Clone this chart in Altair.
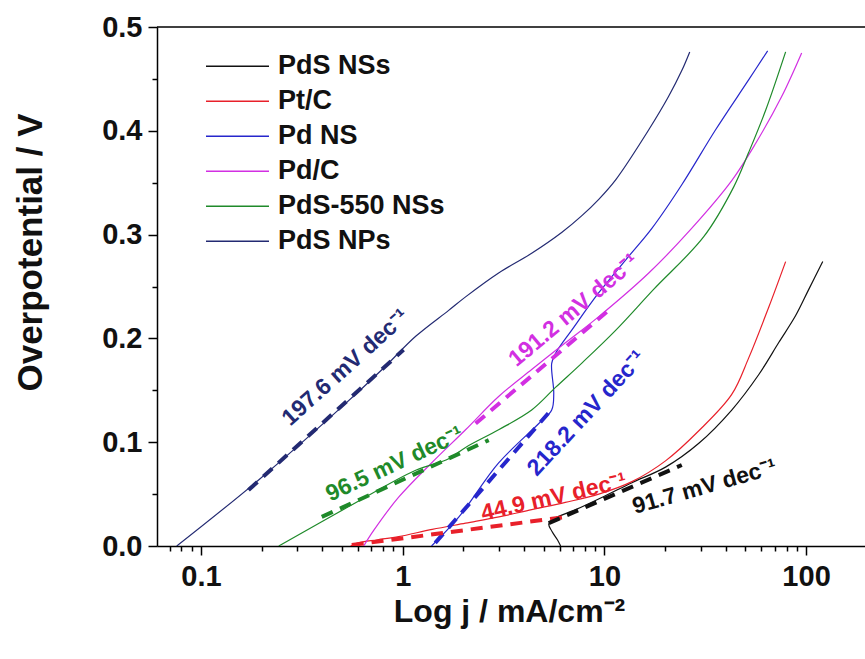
import altair as alt
import pandas as pd

# ---------------- data ----------------
series_names = ["PdS NSs", "Pt/C", "Pd NS", "Pd/C", "PdS-550 NSs", "PdS NPs"]
series_colors = ["#111111", "#e8202a", "#2626cc", "#d22fe2", "#1f8a2a", "#232a72"]

# current density (mA/cm2) and overpotential (V) per curve
pds_nss_j = [6.07, 5.85, 5.5, 5.3, 5.6, 7.2, 10.0, 13.7, 20.1, 29.4, 42.8, 58.2, 73.2, 88.8, 103, 121]
pds_nss_eta = [0.000, 0.006, 0.014, 0.021, 0.026, 0.035, 0.048, 0.061, 0.076, 0.099, 0.131, 0.165, 0.196, 0.222, 0.247, 0.274]

ptc_j = [0.552, 0.60, 0.75, 0.955, 1.4, 2.05, 3.0, 4.36, 6.4, 9.38, 13.7, 20.1, 29.4, 42.8, 51.9, 65.3, 79.2]
ptc_eta = [0.000, 0.003, 0.006, 0.009, 0.016, 0.022, 0.028, 0.035, 0.042, 0.050, 0.062, 0.082, 0.111, 0.146, 0.181, 0.230, 0.274]

pdns_j = [1.39, 1.90, 2.99, 4.73, 5.48, 5.61, 5.48, 5.74, 6.89, 9.38, 12.8, 17.2, 24.2, 35.6, 51.9, 64.5]
pdns_eta = [0.000, 0.028, 0.080, 0.118, 0.131, 0.147, 0.176, 0.186, 0.208, 0.244, 0.276, 0.306, 0.348, 0.401, 0.449, 0.477]

pdc_j = [0.641, 0.718, 0.955, 1.39, 2.05, 2.99, 4.36, 6.43, 9.38, 16.6, 26.8, 42.8, 56.3, 75.7, 95.1]
pdc_eta = [0.000, 0.015, 0.047, 0.080, 0.112, 0.144, 0.170, 0.196, 0.221, 0.263, 0.305, 0.352, 0.388, 0.433, 0.475]

pds550_j = [0.243, 0.540, 1.16, 1.69, 2.05, 2.99, 4.36, 5.74, 7.71, 11.4, 17.5, 31.1, 43.8, 51.9, 63.1, 79.2]
pds550_eta = [0.000, 0.038, 0.073, 0.084, 0.095, 0.112, 0.131, 0.153, 0.176, 0.208, 0.247, 0.298, 0.346, 0.379, 0.420, 0.476]

pdsnp_j = [0.0758, 0.193, 0.499, 0.80, 1.16, 1.69, 2.05, 2.99, 4.36, 6.14, 7.71, 9.38, 11.4, 16.6, 20.8, 24.2, 26.5]
pdsnp_eta = [0.000, 0.0636, 0.134, 0.171, 0.202, 0.227, 0.240, 0.263, 0.282, 0.302, 0.318, 0.334, 0.353, 0.401, 0.433, 0.458, 0.476]

# Tafel fit segments (start/end)
fit_series = ["PdS NPs", "PdS-550 NSs", "Pd/C", "Pd NS", "Pt/C", "PdS NSs"]
fit_j_start = [0.172, 0.397, 2.30, 1.45, 0.559, 5.30]
fit_j_end = [1.01, 2.67, 10.5, 5.5, 6.43, 24.2]
fit_eta_start = [0.054, 0.028, 0.118, 0.003, 0.001, 0.022]
fit_eta_end = [0.189, 0.102, 0.227, 0.132, 0.028, 0.078]

# Tafel slope labels
ann_series = ["PdS NPs", "PdS-550 NSs", "Pd/C", "Pd NS", "Pt/C", "PdS NSs"]
ann_text = ["197.6 mV dec⁻¹", "96.5 mV dec⁻¹", "191.2 mV dec⁻¹", "218.2 mV dec⁻¹", "44.9 mV dec⁻¹", "91.7 mV dec⁻¹"]
ann_j = [0.521, 0.913, 7.05, 8.17, 5.61, 31.4]
ann_eta = [0.172, 0.079, 0.227, 0.128, 0.047, 0.057]
ann_angle = [318, 335, 320, 313, 347, 344]

# ---------------- tables ----------------
curve_arrays = {
    "PdS NSs": (pds_nss_j, pds_nss_eta),
    "Pt/C": (ptc_j, ptc_eta),
    "Pd NS": (pdns_j, pdns_eta),
    "Pd/C": (pdc_j, pdc_eta),
    "PdS-550 NSs": (pds550_j, pds550_eta),
    "PdS NPs": (pdsnp_j, pdsnp_eta),
}
rows = []
for name, (js, etas) in curve_arrays.items():
    for i, (j, e) in enumerate(zip(js, etas)):
        rows.append({"series": name, "j": j, "eta": e, "idx": i})
curves = pd.DataFrame(rows)

fit_rows = []
for s, j1, j2, e1, e2 in zip(fit_series, fit_j_start, fit_j_end, fit_eta_start, fit_eta_end):
    fit_rows.append({"series": s, "j": j1, "eta": e1, "idx": 0})
    fit_rows.append({"series": s, "j": j2, "eta": e2, "idx": 1})
fits = pd.DataFrame(fit_rows)

# tick values
x_ticks = [0.07, 0.08, 0.09] + [round(k * 10 ** e, 3) for e in (-1, 0, 1) for k in range(1, 10)] + [100]
y_ticks = [round(i * 0.05, 2) for i in range(11)]

W, H = 708, 519
x_scale = alt.Scale(type="log", domain=[0.0605, 196], nice=False)
y_scale = alt.Scale(domain=[0, 0.5], nice=False, zero=False)
color_scale = alt.Scale(domain=series_names, range=series_colors)

x_major_test = "abs(log(datum.value)/LN10 - round(log(datum.value)/LN10)) < 0.01"
y_major_test = "abs(datum.value*10 - round(datum.value*10)) < 0.01"

x_axis = alt.Axis(
    values=x_ticks,
    labelExpr=f"{x_major_test} ? format(datum.value, '~g') : ''",
    tickSize={"condition": {"test": x_major_test, "value": 9}, "value": 5},
    labelOverlap=False,
    labelFlush=False,
    labelPadding=7,
    title="Log j / mA/cm⁻²",
    titleFontSize=32,
    titleX=W / 2 - 2,
    titleY=75,
    titleBaseline="alphabetic",
    titleAlign="center",
)
y_axis = alt.Axis(
    values=y_ticks,
    labelExpr=f"{y_major_test} ? format(datum.value, '.1f') : ''",
    tickSize={"condition": {"test": y_major_test, "value": 9}, "value": 5},
    labelOverlap=False,
    labelFlush=False,
    labelPadding=6,
    title="Overpotential / V",
    titleFontSize=35,
    titleX=-127,
    titleY=225,
    titleAngle=270,
    titleBaseline="middle",
    titleAlign="center",
)

base_x = alt.X("j:Q", scale=x_scale, axis=x_axis)
base_y = alt.Y("eta:Q", scale=y_scale, axis=y_axis)

curve_layer = alt.Chart(curves).mark_line(strokeWidth=1.2, clip=True, interpolate="catmull-rom").encode(
    x=base_x,
    y=base_y,
    order="idx:Q",
    color=alt.Color(
        "series:N",
        scale=color_scale,
        sort=series_names,
        legend=alt.Legend(
            title=None,
            orient="none",
            legendX=48,
            legendY=22,
            symbolType="stroke",
            symbolSize=3969,
            symbolStrokeWidth=1.6,
            clipHeight=34.5,
            rowPadding=0,
            padding=0,
            labelOffset=8,
            labelFont="Liberation Sans",
            labelFontSize=27,
            labelFontWeight="bold",
            labelColor="#111111",
            labelLimit=400,
        ),
    ),
)

fit_layer = alt.Chart(fits).mark_line(strokeWidth=4, strokeDash=[12, 8], clip=True).encode(
    x=alt.X("j:Q", scale=x_scale),
    y=alt.Y("eta:Q", scale=y_scale),
    order="idx:Q",
    detail="series:N",
    color=alt.Color("series:N", scale=color_scale, legend=None),
)

text_layers = []
for s, t, j, e, a in zip(ann_series, ann_text, ann_j, ann_eta, ann_angle):
    df = pd.DataFrame({"series": [s], "label": [t], "j": [j], "eta": [e]})
    text_layers.append(
        alt.Chart(df).mark_text(
            angle=a, font="Liberation Sans", fontSize=23, fontWeight="bold",
            align="center", baseline="middle",
        ).encode(
            x=alt.X("j:Q", scale=x_scale),
            y=alt.Y("eta:Q", scale=y_scale),
            text="label:N",
            color=alt.Color("series:N", scale=color_scale, legend=None),
        )
    )

top_border = alt.Chart(pd.DataFrame({"k": [0]})).mark_rule(color="black", strokeWidth=1.5).encode(
    x=alt.value(0), x2=alt.value(W), y=alt.value(0)
)

chart = alt.layer(curve_layer, fit_layer, *text_layers, top_border).properties(
    width=W,
    height=H,
    autosize=alt.AutoSizeParams(type="none"),
    padding={"left": 157, "top": 27, "right": 0, "bottom": 113},
    background="white",
).configure_view(stroke=None).configure_axis(
    grid=False,
    domainColor="black",
    domainWidth=1.5,
    tickColor="black",
    tickWidth=1.5,
    labelFont="Liberation Sans",
    labelFontSize=29,
    labelFontWeight="bold",
    labelColor="#111111",
    titleFont="Liberation Sans",
    titleFontWeight="bold",
    titleColor="#111111",
)

chart.save("out.html", embed_options={"renderer": "svg", "actions": False})
